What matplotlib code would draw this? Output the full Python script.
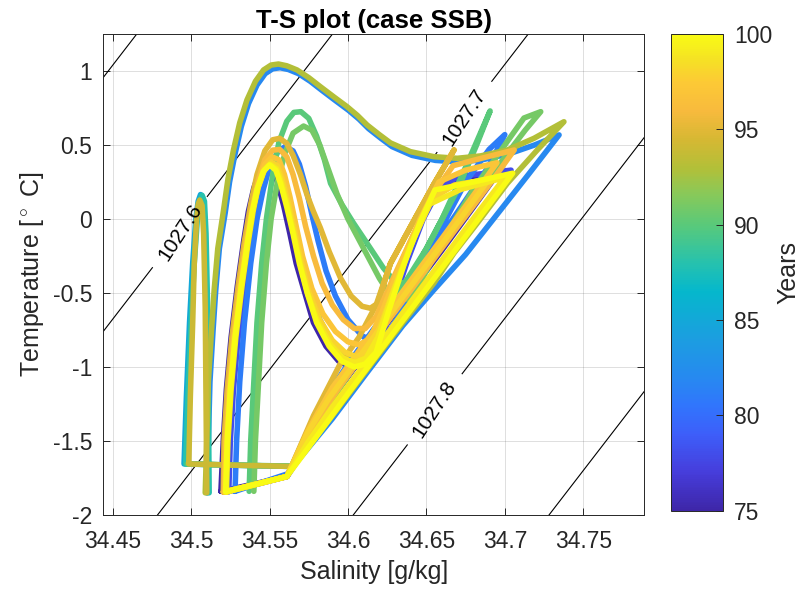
import matplotlib
matplotlib.use('Agg')
import matplotlib.pyplot as plt
import numpy as np
from matplotlib.colors import LinearSegmentedColormap, Normalize
from matplotlib.cm import ScalarMappable

plt.rcParams['font.family'] = ['Liberation Sans', 'DejaVu Sans']
plt.rcParams['mathtext.fontset'] = 'custom'
plt.rcParams['mathtext.rm'] = 'Liberation Sans'

# parula-like colormap
cmap_pos = [0.0, 0.08, 0.16, 0.22, 0.28, 0.36, 0.46, 0.52, 0.60, 0.66, 0.72, 0.78, 0.84, 0.90, 0.95, 1.0]
cmap_rgb = [(0.242, 0.150, 0.660), (0.275, 0.240, 0.860), (0.240, 0.370, 0.980), (0.190, 0.460, 0.990),
            (0.150, 0.540, 0.940), (0.110, 0.620, 0.880), (0.020, 0.720, 0.800), (0.150, 0.760, 0.680),
            (0.350, 0.790, 0.480), (0.520, 0.790, 0.360), (0.700, 0.750, 0.220), (0.840, 0.720, 0.200),
            (0.970, 0.730, 0.240), (0.990, 0.790, 0.210), (0.960, 0.890, 0.140), (0.977, 0.984, 0.080)]

# isopycnals (linear fit of the drawn density field)
plain_levels = [1027.5, 1027.9]
label_levels = [1027.6, 1027.7, 1027.8]
label_pos = [(34.4914, -0.08), (34.674, 0.691), (34.656, -1.29)]
rho_ref, s_ref, t_ref = 1027.6, 34.5102, 0.1507
drho_ds, drho_dt = 0.8013, -0.05828

# T-S loops, one per year
s75 = [34.519, 34.5205, 34.5225, 34.5255, 34.5295, 34.5335, 34.5365, 34.540, 34.544, 34.548, 34.552, 34.555, 34.559, 34.563, 34.567,
       34.5725, 34.578, 34.586, 34.594, 34.602, 34.610, 34.617, 34.626, 34.636, 34.646, 34.658, 34.676, 34.695, 34.680, 34.660,
       34.638, 34.615, 34.592, 34.575, 34.5612, 34.519]
t75 = [-1.84, -1.50, -1.15, -0.80, -0.45, -0.15, 0.05, 0.21, 0.33, 0.375, 0.34, 0.25, 0.09, -0.10, -0.30,
       -0.50, -0.70, -0.86, -0.96, -1.005, -0.985, -0.90, -0.62, -0.30, -0.02, 0.23, 0.286, 0.30, 0.08, -0.21,
       -0.52, -0.85, -1.18, -1.45, -1.74, -1.84]

s78 = [34.524, 34.525, 34.527, 34.530, 34.534, 34.538, 34.541, 34.544, 34.548, 34.552, 34.556, 34.559, 34.563, 34.567, 34.571,
       34.576, 34.582, 34.590, 34.598, 34.606, 34.613, 34.620, 34.628, 34.638, 34.648, 34.658, 34.670, 34.704, 34.690, 34.668,
       34.645, 34.620, 34.597, 34.578, 34.5612, 34.524]
t78 = [-1.842, -1.50, -1.15, -0.80, -0.45, -0.15, 0.05, 0.20, 0.33, 0.38, 0.35, 0.26, 0.10, -0.08, -0.28,
       -0.48, -0.68, -0.84, -0.94, -0.97, -0.95, -0.87, -0.60, -0.28, 0.00, 0.20, 0.286, 0.33, 0.13, -0.18,
       -0.51, -0.87, -1.20, -1.47, -1.74, -1.842]

s81 = [34.528, 34.529, 34.531, 34.534, 34.538, 34.542, 34.546, 34.550, 34.555, 34.560, 34.565, 34.569, 34.573, 34.577, 34.581, 34.586,
       34.592, 34.600, 34.609, 34.617, 34.624, 34.632, 34.645, 34.660, 34.675, 34.690, 34.700, 34.690, 34.672, 34.650, 34.625, 34.600,
       34.580, 34.562, 34.528]
t81 = [-1.84, -1.50, -1.10, -0.70, -0.30, 0.00, 0.20, 0.35, 0.45, 0.49, 0.46, 0.37, 0.22, 0.03, -0.15, -0.35,
       -0.52, -0.68, -0.79, -0.83, -0.80, -0.66, -0.38, -0.05, 0.25, 0.47, 0.57, 0.36, 0.08, -0.26, -0.62, -0.98,
       -1.30, -1.72, -1.84]

s82 = [34.510, 34.511, 34.512, 34.514, 34.5157, 34.518, 34.5217, 34.5245, 34.528, 34.532, 34.5366, 34.542, 34.5472, 34.552, 34.5567,
       34.562, 34.5685, 34.576, 34.5834, 34.592, 34.6004, 34.607, 34.6132, 34.621, 34.6281, 34.6408, 34.6557, 34.6707, 34.6855, 34.7026,
       34.719, 34.7346, 34.715, 34.695, 34.675, 34.6547, 34.635, 34.612, 34.590, 34.565]
t82 = [-1.85, -1.50, -1.10, -0.75, -0.48, -0.20, 0.04, 0.25, 0.44, 0.625, 0.78, 0.905, 0.982, 1.015, 1.022,
       1.01, 0.982, 0.93, 0.869, 0.80, 0.734, 0.675, 0.61, 0.545, 0.489, 0.43, 0.396, 0.385, 0.40, 0.44,
       0.50, 0.568, 0.30, 0.03, -0.24, -0.48, -0.72, -1.04, -1.35, -1.672]

s85 = [34.565, 34.530, 34.4955, 34.497, 34.499, 34.501, 34.503, 34.5045, 34.506, 34.5075, 34.5085, 34.5095, 34.510, 34.5105]
t85 = [-1.672, -1.664, -1.655, -1.20, -0.70, -0.30, 0.00, 0.12, 0.165, 0.12, -0.10, -0.60, -1.20, -1.85]

s88 = [34.565, 34.530, 34.4965, 34.498, 34.500, 34.502, 34.504, 34.5055, 34.507, 34.5085, 34.5095, 34.5105, 34.511, 34.5115]
t88 = [-1.672, -1.664, -1.655, -1.20, -0.70, -0.30, 0.00, 0.12, 0.16, 0.12, -0.10, -0.60, -1.20, -1.85]

s90 = [34.537, 34.538, 34.540, 34.542, 34.545, 34.548, 34.552, 34.556, 34.561, 34.5655, 34.570, 34.575, 34.580, 34.585, 34.5889,
       34.596, 34.6036, 34.610, 34.6164, 34.6225, 34.628, 34.633, 34.638, 34.645, 34.660, 34.675, 34.6906, 34.682, 34.670, 34.650,
       34.625, 34.600, 34.580, 34.565, 34.530, 34.4975]
t90 = [-1.84, -1.50, -1.10, -0.70, -0.30, 0.00, 0.30, 0.52, 0.66, 0.72, 0.725, 0.68, 0.56, 0.40, 0.241,
       0.10, -0.029, -0.13, -0.232, -0.33, -0.40, -0.44, -0.42, -0.30, 0.00, 0.35, 0.73, 0.50, 0.20, -0.20,
       -0.62, -1.02, -1.38, -1.67, -1.663, -1.655]

s91 = [34.540, 34.541, 34.543, 34.545, 34.548, 34.551, 34.555, 34.560, 34.565, 34.5717, 34.577, 34.582, 34.587, 34.593, 34.600,
       34.607, 34.614, 34.620, 34.626, 34.632, 34.638, 34.645, 34.660, 34.680, 34.700, 34.7122, 34.7229, 34.713, 34.700, 34.680,
       34.655, 34.630, 34.605, 34.585, 34.565]
t91 = [-1.84, -1.50, -1.10, -0.70, -0.30, 0.00, 0.25, 0.45, 0.58, 0.628, 0.60, 0.50, 0.35, 0.17, 0.00,
       -0.14, -0.28, -0.40, -0.50, -0.55, -0.54, -0.45, -0.15, 0.20, 0.50, 0.682, 0.725, 0.60, 0.42, 0.12,
       -0.25, -0.62, -0.98, -1.30, -1.67]

s93 = [34.509, 34.510, 34.511, 34.513, 34.5147, 34.517, 34.5207, 34.5235, 34.527, 34.531, 34.5356, 34.541, 34.5462, 34.551, 34.5557,
       34.561, 34.5675, 34.575, 34.5824, 34.591, 34.5994, 34.606, 34.6122, 34.620, 34.6271, 34.6398, 34.6547, 34.6697, 34.6845, 34.7016,
       34.7186, 34.7377, 34.7207, 34.7016, 34.6824, 34.6675, 34.6547, 34.635, 34.612, 34.590, 34.565]
t93 = [-1.85, -1.50, -1.10, -0.75, -0.48, -0.20, 0.061, 0.27, 0.466, 0.65, 0.804, 0.93, 1.007, 1.04, 1.047,
       1.035, 1.007, 0.955, 0.894, 0.825, 0.759, 0.70, 0.635, 0.57, 0.514, 0.455, 0.421, 0.410, 0.426, 0.466,
       0.545, 0.657, 0.466, 0.241, -0.029, -0.232, -0.434, -0.70, -1.02, -1.33, -1.67]

s94 = [34.565, 34.530, 34.4985, 34.4995, 34.501, 34.502, 34.5035, 34.5045, 34.5055, 34.507, 34.508, 34.509, 34.5095, 34.510]
t94 = [-1.672, -1.664, -1.655, -1.20, -0.70, -0.30, 0.00, 0.10, 0.128, 0.09, -0.10, -0.60, -1.20, -1.85]

s95 = [34.5205, 34.521, 34.523, 34.526, 34.530, 34.534, 34.538, 34.542, 34.547, 34.552, 34.5565, 34.561, 34.565, 34.5697, 34.574,
       34.578, 34.5824, 34.588, 34.5953, 34.602, 34.609, 34.6143, 34.619, 34.6271, 34.640, 34.655, 34.6676, 34.655, 34.640, 34.6271,
       34.618, 34.607, 34.595, 34.578, 34.5612, 34.5205]
t95 = [-1.845, -1.50, -1.15, -0.80, -0.45, -0.15, 0.10, 0.30, 0.46, 0.535, 0.545, 0.51, 0.43, 0.30, 0.16,
       0.05, -0.06, -0.22, -0.40, -0.52, -0.59, -0.603, -0.57, -0.30, -0.05, 0.24, 0.466, 0.24, -0.05, -0.30,
       -0.58, -0.80, -0.98, -1.33, -1.74, -1.845]

s96 = [34.521, 34.522, 34.524, 34.527, 34.531, 34.535, 34.539, 34.543, 34.547, 34.552, 34.5565, 34.561, 34.565, 34.569, 34.573,
       34.578, 34.5835, 34.590, 34.597, 34.604, 34.611, 34.618, 34.628, 34.642, 34.655, 34.667, 34.685, 34.706, 34.690, 34.668,
       34.645, 34.620, 34.595, 34.578, 34.561, 34.521]
t96 = [-1.845, -1.50, -1.15, -0.80, -0.45, -0.15, 0.08, 0.27, 0.40, 0.465, 0.47, 0.42, 0.30, 0.14, -0.05,
       -0.25, -0.434, -0.58, -0.68, -0.74, -0.74, -0.66, -0.42, -0.10, 0.18, 0.36, 0.41, 0.466, 0.23, -0.08,
       -0.41, -0.77, -1.13, -1.40, -1.74, -1.845]

s97 = [34.5215, 34.5225, 34.5245, 34.5275, 34.5315, 34.5355, 34.539, 34.543, 34.547, 34.5515, 34.556, 34.5595, 34.563, 34.567, 34.571,
       34.577, 34.584, 34.592, 34.600, 34.607, 34.614, 34.622, 34.633, 34.646, 34.658, 34.675, 34.695, 34.680, 34.660, 34.637,
       34.612, 34.590, 34.575, 34.561, 34.5215]
t97 = [-1.845, -1.50, -1.15, -0.80, -0.45, -0.15, 0.06, 0.24, 0.37, 0.42, 0.40, 0.30, 0.15, -0.05, -0.25,
       -0.47, -0.64, -0.76, -0.83, -0.85, -0.81, -0.62, -0.32, 0.00, 0.25, 0.33, 0.38, 0.16, -0.13, -0.46,
       -0.82, -1.14, -1.42, -1.74, -1.845]

s98 = [34.522, 34.523, 34.525, 34.528, 34.532, 34.536, 34.539, 34.543, 34.547, 34.551, 34.555, 34.558, 34.562, 34.566, 34.570,
       34.575, 34.582, 34.590, 34.598, 34.605, 34.612, 34.620, 34.630, 34.642, 34.654, 34.668, 34.690, 34.675, 34.655, 34.632,
       34.608, 34.588, 34.574, 34.561, 34.522]
t98 = [-1.845, -1.50, -1.15, -0.80, -0.45, -0.15, 0.05, 0.22, 0.34, 0.385, 0.36, 0.27, 0.11, -0.08, -0.28,
       -0.49, -0.68, -0.82, -0.90, -0.93, -0.90, -0.74, -0.45, -0.12, 0.14, 0.23, 0.27, 0.05, -0.24, -0.57,
       -0.92, -1.21, -1.45, -1.74, -1.845]

s99 = [34.5225, 34.5235, 34.5255, 34.5285, 34.5325, 34.5365, 34.5395, 34.5425, 34.5465, 34.5505, 34.5545, 34.5575, 34.5615, 34.5655, 34.5695,
       34.5745, 34.581, 34.589, 34.597, 34.6045, 34.6115, 34.619, 34.628, 34.640, 34.652, 34.672, 34.700, 34.684, 34.662, 34.638,
       34.612, 34.590, 34.575, 34.561, 34.5225]
t99 = [-1.845, -1.50, -1.15, -0.80, -0.45, -0.15, 0.05, 0.21, 0.33, 0.37, 0.34, 0.25, 0.09, -0.10, -0.30,
       -0.51, -0.70, -0.85, -0.94, -0.97, -0.94, -0.80, -0.52, -0.18, 0.10, 0.20, 0.28, 0.06, -0.25, -0.59,
       -0.96, -1.27, -1.50, -1.74, -1.845]

s100 = [34.522, 34.523, 34.525, 34.528, 34.532, 34.536, 34.539, 34.542, 34.546, 34.550, 34.554, 34.557, 34.561, 34.565, 34.569,
        34.574, 34.580, 34.588, 34.596, 34.604, 34.611, 34.618, 34.626, 34.636, 34.646, 34.6555, 34.680, 34.705, 34.690, 34.670,
        34.648, 34.625, 34.600, 34.580, 34.561, 34.522]
t100 = [-1.842, -1.50, -1.15, -0.80, -0.45, -0.15, 0.05, 0.20, 0.32, 0.365, 0.33, 0.24, 0.08, -0.10, -0.30,
        -0.50, -0.70, -0.86, -0.96, -1.00, -0.98, -0.90, -0.62, -0.30, -0.02, 0.196, 0.25, 0.309, 0.096, -0.188,
        -0.50, -0.827, -1.18, -1.47, -1.74, -1.842]

loops = [(75, s75, t75), (78, s78, t78), (81, s81, t81), (82, s82, t82), (85, s85, t85), (88, s88, t88),
         (90, s90, t90), (91, s91, t91), (93, s93, t93), (94, s94, t94), (95, s95, t95), (96, s96, t96),
         (97, s97, t97), (98, s98, t98), (99, s99, t99), (100, s100, t100)]

x_ticks = [34.45, 34.5, 34.55, 34.6, 34.65, 34.7, 34.75]
x_ticklabels = ['34.45', '34.5', '34.55', '34.6', '34.65', '34.7', '34.75']
y_ticks = [-2, -1.5, -1, -0.5, 0, 0.5, 1]
y_ticklabels = ['-2', '-1.5', '-1', '-0.5', '0', '0.5', '1']
cb_ticks = [75, 80, 85, 90, 95, 100]

dark = (0.15, 0.15, 0.15)
parula = LinearSegmentedColormap.from_list('parula', list(zip(cmap_pos, cmap_rgb)), N=256)
norm = Normalize(75, 100)

fig = plt.figure(figsize=(8.05, 5.94), dpi=100)
ax = fig.add_axes([0.1283, 0.133, 0.6722, 0.8098])
cax = fig.add_axes([0.8335, 0.140, 0.0646, 0.8027])

# density contours
S, T = np.meshgrid(np.linspace(34.40, 34.85, 200), np.linspace(-2.2, 1.4, 200))
rho = rho_ref + drho_ds * (S - s_ref) + drho_dt * (T - t_ref)
ax.contour(S, T, rho, levels=plain_levels, colors='k', linewidths=0.8)
cs = ax.contour(S, T, rho, levels=label_levels, colors='k', linewidths=0.8)
ax.clabel(cs, manual=label_pos, fmt='%.1f', fontsize=15, inline=True, inline_spacing=6)

for yr, s, t in loops:
    ax.plot(s, t, color=parula(norm(yr)), lw=4.0, solid_joinstyle='round', solid_capstyle='round')

ax.set_xlim(34.444, 34.789)
ax.set_ylim(-2, 1.25)
ax.set_xticks(x_ticks)
ax.set_xticklabels(x_ticklabels)
ax.set_yticks(y_ticks)
ax.set_yticklabels(y_ticklabels)
ax.grid(True, color=dark, alpha=0.15, lw=0.7)
ax.set_axisbelow(True)
ax.tick_params(direction='in', length=5, width=0.7, top=True, right=True, labelsize=16.5, colors=dark)
ax.tick_params(axis='x', pad=11)
ax.tick_params(axis='y', pad=8)
for sp in ax.spines.values():
    sp.set_color(dark)
    sp.set_linewidth(0.7)
ax.set_xlabel('Salinity [g/kg]', fontsize=18, color=dark, labelpad=5)
ax.set_ylabel('Temperature [$^\\circ$ C]', fontsize=18, color=dark, labelpad=5)
ax.set_title('T-S plot (case SSB)', fontsize=18.5, fontweight='bold', pad=4)

sm = ScalarMappable(norm=norm, cmap=parula)
cb = fig.colorbar(sm, cax=cax, ticks=cb_ticks)
cb.ax.tick_params(direction='in', length=5, width=0.7, labelsize=16.5, colors=dark, pad=8)
cb.outline.set_edgecolor(dark)
cb.outline.set_linewidth(0.7)
cb.set_label('Years', fontsize=18, color=dark, labelpad=3)

fig.savefig('out.png', dpi=100)
